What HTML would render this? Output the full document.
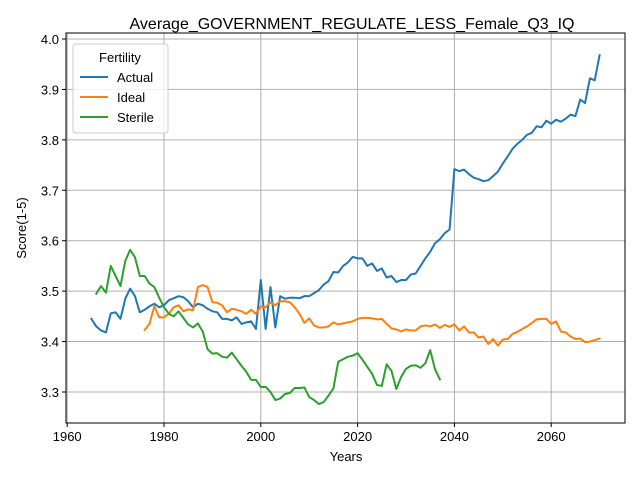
<!DOCTYPE html>
<html><head><meta charset="utf-8"><style>
body{margin:0;background:#fff}
svg{font-family:"Liberation Sans","DejaVu Sans",sans-serif}
</style></head><body>
<svg id="chart" width="640" height="480" xmlns="http://www.w3.org/2000/svg">
<rect width="640" height="480" fill="#fff"/>
<g id="grid"></g>
<g id="series"></g>
<rect x="66" y="33" width="559" height="390" fill="none" stroke="#000" stroke-width="1"/>
<g id="ticks"></g>
<text x="352" y="29" text-anchor="middle" font-size="16">Average_GOVERNMENT_REGULATE_LESS_Female_Q3_IQ</text>
<text x="346" y="461" text-anchor="middle" font-size="13">Years</text>
<text x="26" y="228" text-anchor="middle" font-size="13" transform="rotate(-90 26 228)">Score(1-5)</text>
<g>
<rect x="73" y="44" width="95" height="89" rx="3" fill="#fff" fill-opacity="0.8" stroke="#ccc"/>
<text x="120" y="62" text-anchor="middle" font-size="13">Fertility</text>
<g><line x1="80" x2="108" y1="77" y2="77" stroke="#1f77b4" stroke-width="2"/><text x="117" y="82" font-size="13">Actual</text></g>
<g><line x1="80" x2="108" y1="97" y2="97" stroke="#ff7f0e" stroke-width="2"/><text x="117" y="102" font-size="13">Ideal</text></g>
<g><line x1="80" x2="108" y1="117" y2="117" stroke="#2ca02c" stroke-width="2"/><text x="117" y="122" font-size="13">Sterile</text></g>
</g>
</svg>
<script>
const actualStart = 1965;
const actualValues = [3.445,3.43,3.422,3.418,3.456,3.458,3.445,3.485,3.505,3.49,3.458,3.463,3.47,3.475,3.468,3.472,3.482,3.486,3.49,3.488,3.48,3.468,3.475,3.472,3.465,3.46,3.458,3.445,3.445,3.442,3.448,3.435,3.438,3.44,3.425,3.522,3.425,3.508,3.428,3.49,3.485,3.487,3.487,3.486,3.49,3.49,3.496,3.502,3.513,3.52,3.538,3.537,3.55,3.557,3.568,3.565,3.565,3.55,3.555,3.54,3.545,3.527,3.53,3.518,3.522,3.522,3.533,3.535,3.55,3.565,3.578,3.595,3.603,3.615,3.622,3.742,3.738,3.741,3.732,3.725,3.722,3.718,3.72,3.728,3.737,3.753,3.767,3.782,3.792,3.8,3.81,3.814,3.827,3.825,3.838,3.832,3.84,3.836,3.842,3.85,3.847,3.88,3.873,3.922,3.918,3.968];
const idealStart = 1976;
const idealValues = [3.423,3.435,3.47,3.448,3.448,3.455,3.468,3.472,3.46,3.464,3.462,3.508,3.512,3.508,3.478,3.477,3.472,3.458,3.465,3.463,3.46,3.455,3.463,3.455,3.47,3.468,3.478,3.472,3.48,3.48,3.478,3.468,3.455,3.437,3.446,3.432,3.428,3.428,3.43,3.438,3.434,3.436,3.438,3.44,3.445,3.447,3.447,3.446,3.444,3.445,3.435,3.426,3.424,3.42,3.424,3.422,3.422,3.43,3.432,3.43,3.434,3.427,3.433,3.429,3.434,3.422,3.43,3.418,3.418,3.408,3.41,3.395,3.405,3.392,3.404,3.405,3.415,3.419,3.425,3.43,3.437,3.444,3.445,3.445,3.435,3.44,3.42,3.418,3.41,3.405,3.406,3.399,3.4,3.403,3.406];
const sterileStart = 1966;
const sterileValues = [3.495,3.51,3.497,3.55,3.53,3.51,3.56,3.582,3.567,3.53,3.53,3.515,3.508,3.487,3.468,3.455,3.45,3.46,3.447,3.434,3.428,3.436,3.42,3.385,3.376,3.377,3.37,3.368,3.378,3.365,3.352,3.34,3.324,3.324,3.31,3.31,3.3,3.284,3.287,3.296,3.298,3.308,3.308,3.309,3.29,3.284,3.276,3.28,3.293,3.307,3.36,3.365,3.37,3.372,3.377,3.364,3.35,3.336,3.314,3.312,3.355,3.342,3.306,3.33,3.346,3.352,3.353,3.348,3.357,3.383,3.345,3.325];
const xTicks = [1960,1980,2000,2020,2040,2060];
const yTicks = [3.3,3.4,3.5,3.6,3.7,3.8,3.9,4.0];

const X0=66,X1=625,Y0=423,Y1=33, xmin=1959.75,xmax=2075.25, ymin=3.2385,ymax=4.0119;
function sx(v){return X0+(v-xmin)/(xmax-xmin)*(X1-X0);}
function sy(v){return Y0-(v-ymin)/(ymax-ymin)*(Y0-Y1);}
const NS="http://www.w3.org/2000/svg";
const grid=document.getElementById('grid'), ticks=document.getElementById('ticks'), ser=document.getElementById('series');
function mk(tag,attrs,parent){const e=document.createElementNS(NS,tag);for(const k in attrs)e.setAttribute(k,attrs[k]);parent.appendChild(e);return e;}
xTicks.forEach(t=>{
  const x=sx(t);
  const g=mk('line',{x1:x,x2:x,y1:Y1,y2:Y0,stroke:'#b0b0b0','stroke-width':1},grid);
  
  
  mk('line',{x1:x,x2:x,y1:Y0,y2:Y0+4,stroke:'#000'},ticks);
  const tx=mk('text',{x:x,y:Y0+18,'text-anchor':'middle','font-size':13},ticks);
  tx.textContent=t;
  
  
});
yTicks.forEach(t=>{
  const y=sy(t);
  const g=mk('line',{x1:X0,x2:X1,y1:y,y2:y,stroke:'#b0b0b0','stroke-width':1},grid);
  
  
  mk('line',{x1:X0-4,x2:X0,y1:y,y2:y,stroke:'#000'},ticks);
  const tx=mk('text',{x:X0-7,y:y+5,'text-anchor':'end','font-size':13},ticks);
  tx.textContent=t.toFixed(1);
  
  
});
function line(start,vals,color,name){
  const pts=vals.map((v,i)=>sx(start+i).toFixed(2)+','+sy(v).toFixed(2)).join(' ');
  const p=mk('polyline',{points:pts,fill:'none',stroke:color,'stroke-width':2,'stroke-linejoin':'round','stroke-linecap':'square'},ser);
  
  
}
line(actualStart,actualValues,'#1f77b4','actual-line');
line(idealStart,idealValues,'#ff7f0e','ideal-line');
line(sterileStart,sterileValues,'#2ca02c','sterile-line');
</script>
</body></html>
